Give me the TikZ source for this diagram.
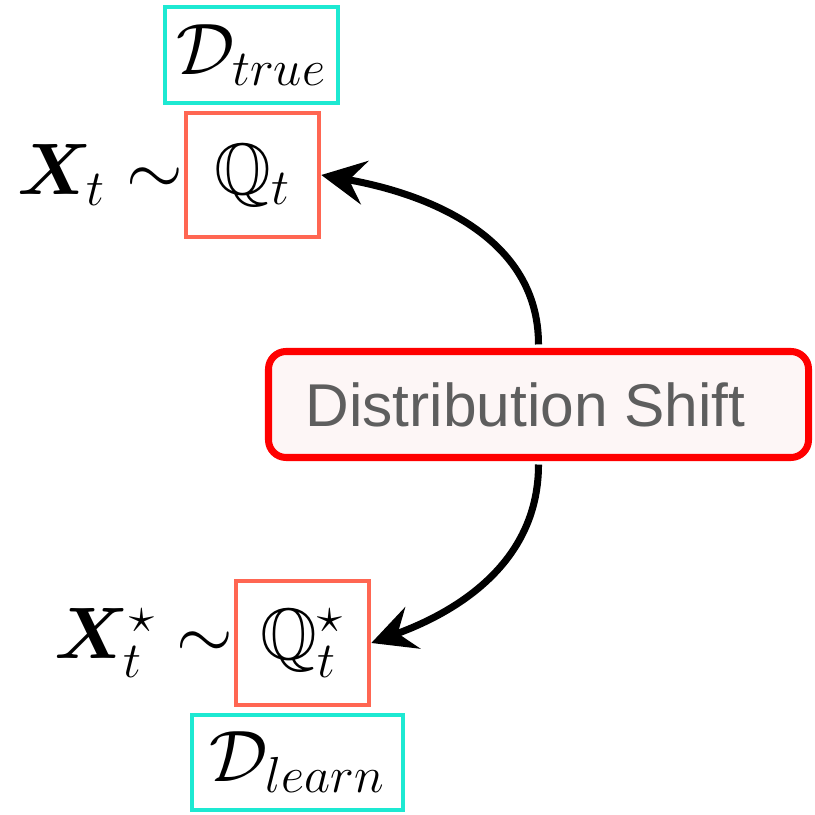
\documentclass[tikz,border=0pt]{standalone}
\usepackage{amsmath,amssymb,bm}
\usepackage{fontspec}
\newfontfamily\shiftfont{Liberation Sans}
\usetikzlibrary{arrows.meta,positioning}
\definecolor{tealbox}{HTML}{1DE9D2}
\definecolor{salmon}{HTML}{FF6652}
\definecolor{shiftred}{HTML}{FF0000}
\definecolor{shiftfill}{HTML}{FDF6F6}
\definecolor{shifttext}{HTML}{5E5E5E}

\begin{document}
\begin{tikzpicture}[
  distbox/.style={draw=salmon,line width=1.3pt,minimum width=1.33cm,minimum height=1.24cm,inner sep=0pt,font=\huge},
  setbox/.style={draw=tealbox,line width=1.2pt,inner sep=0pt,font=\huge},
  varlabel/.style={font=\huge,inner sep=0pt,anchor=east},
  shiftarrow/.style={line width=2pt,-{Stealth[length=12.5pt,width=12.5pt,inset=4.5pt]}}
]
\useasboundingbox (0,0) rectangle (8.14,8.15);
% true distribution (top)
\node[distbox] (qtrue) at (2.525,6.40) {$\mathbb{Q}_t$};
\node[setbox,minimum width=1.73cm,minimum height=0.96cm] (dtrue) at (2.515,7.60) {$\mathcal{D}_{true}$};
\node[varlabel] (xtrue) at (qtrue.west) {$\bm{X}_t\sim$};
% learned distribution (bottom)
\node[distbox] (qlearn) at (3.025,1.72) {$\mathbb{Q}^\star_t$};
\node[setbox,minimum width=2.11cm,minimum height=0.95cm] (dlearn) at (2.975,0.525) {$\mathcal{D}_{learn}$};
\node[varlabel] (xlearn) at (qlearn.west) {$\bm{X}^\star_t\sim$};
% shift box and arrows
\node[draw=shiftred,fill=shiftfill,line width=2pt,rounded corners=5pt,minimum width=5.4cm,minimum height=1.06cm,text=shifttext,font=\shiftfont\fontsize{17.2}{20}\selectfont] (shift) at (5.385,4.105) {Distribution Shift\hspace*{0.26cm}};
\draw[shiftarrow] ([yshift=1pt]shift.north) to[out=90,in=-10] (qtrue.east);
\draw[shiftarrow] ([yshift=-1pt]shift.south) to[out=-90,in=20] (qlearn.east);
\end{tikzpicture}
\end{document}
